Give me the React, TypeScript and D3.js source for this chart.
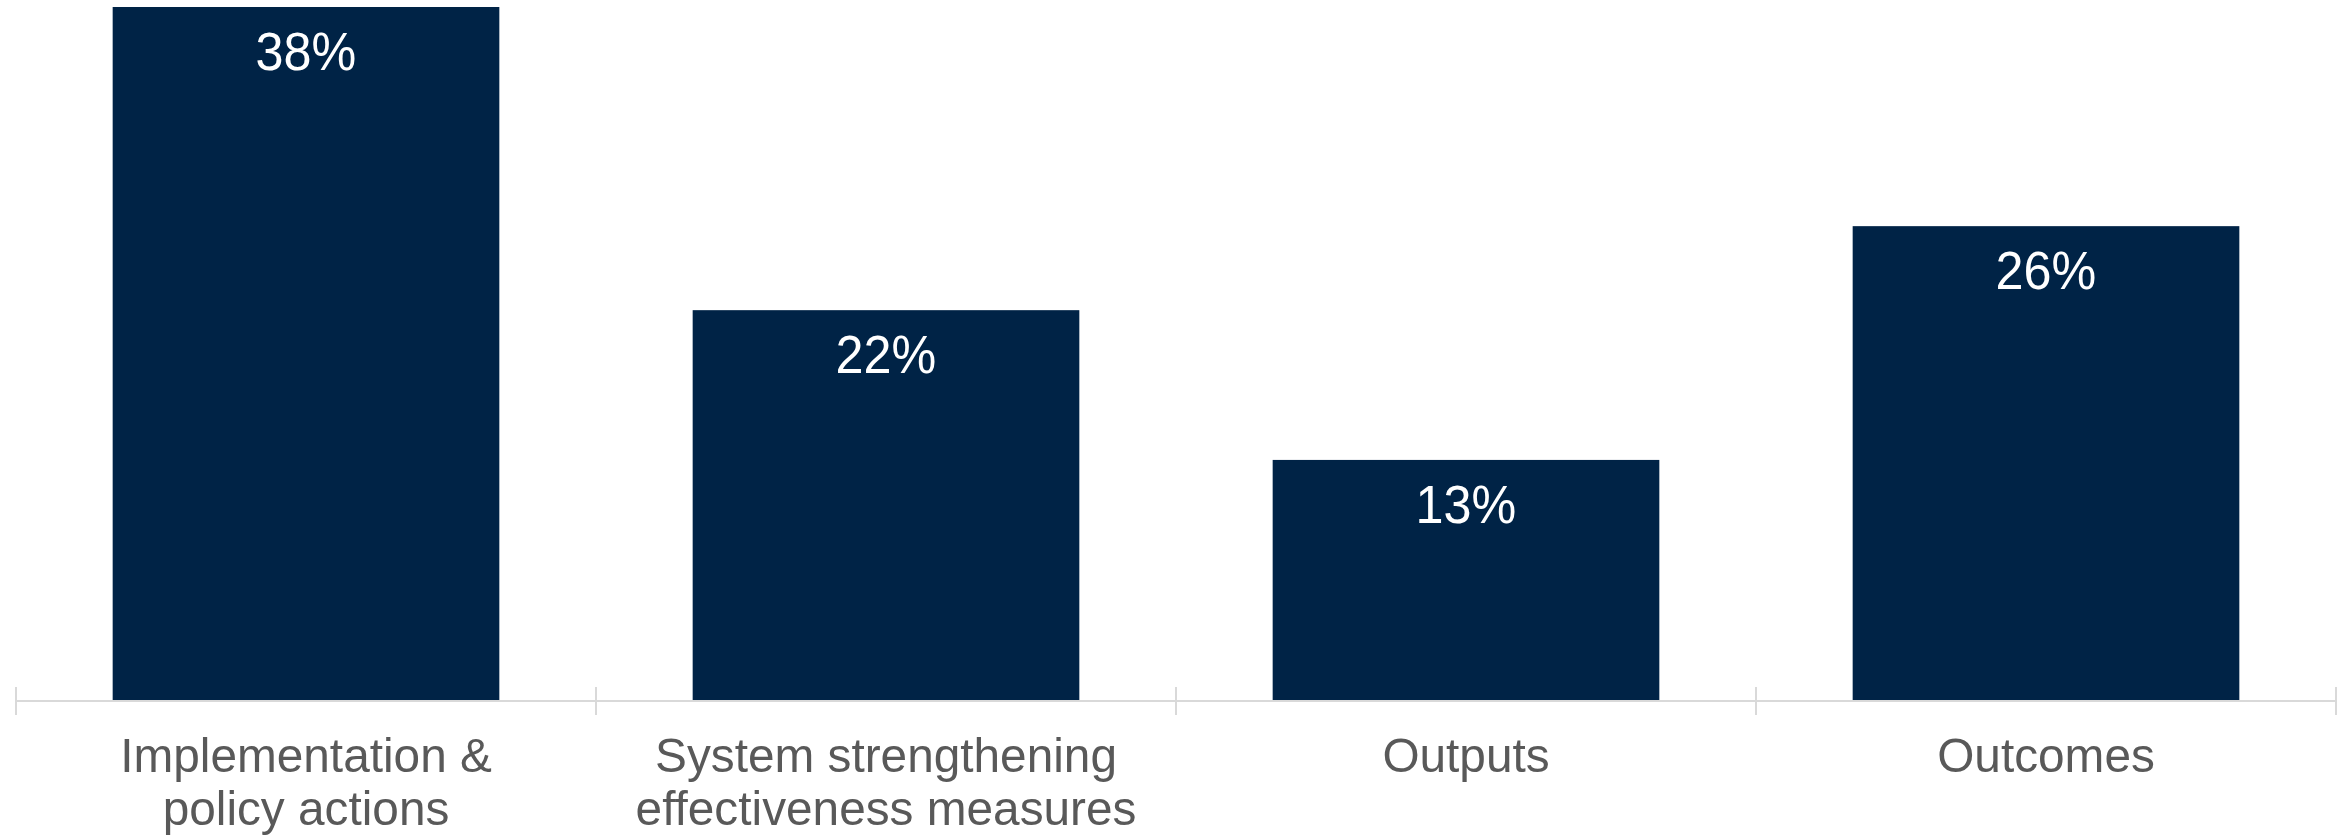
import React from "react";
import * as d3 from "d3";

const categories = [
  "Implementation & policy actions",
  "System strengthening effectiveness measures",
  "Outputs",
  "Outcomes",
];
const categoryLines = [
  ["Implementation &", "policy actions"],
  ["System strengthening", "effectiveness measures"],
  ["Outputs"],
  ["Outcomes"],
];
const values = [0.38, 0.214, 0.132, 0.26];
const valueLabels = ["38%", "22%", "13%", "26%"];

const W = 2351;
const H = 837;
const axisY = 701;
const barColor = "#002346";
const axisColor = "#d9d9d9";
const font = "'Liberation Sans', Arial, Helvetica, sans-serif";

export default function App() {
  const x = d3
    .scaleBand<string>()
    .domain(categories)
    .range([16, 2336])
    .paddingInner(1 / 3)
    .paddingOuter(1 / 6);
  const y = d3.scaleLinear().domain([0, 0.38]).range([axisY, 7]);
  const step = x.step();
  const half = (step - x.bandwidth()) / 2;
  const ticks = categories.map((c) => (x(c) as number) - half);
  ticks.push((x(categories[categories.length - 1]) as number) + x.bandwidth() + half);

  return (
    <svg
      width={W}
      height={H}
      style={{ position: "absolute", left: 0, top: 0, background: "#fff" }}
    >
      {categories.map((c, i) => (
        <rect
          key={c}
          x={x(c)}
          y={y(values[i])}
          width={x.bandwidth()}
          height={axisY - y(values[i])}
          fill={barColor}
        />
      ))}
      <line x1={ticks[0]} x2={ticks[ticks.length - 1]} y1={axisY} y2={axisY} stroke={axisColor} strokeWidth={2} />
      {ticks.map((t, i) => (
        <line key={i} x1={t} x2={t} y1={axisY - 14} y2={axisY + 14} stroke={axisColor} strokeWidth={2} />
      ))}
      {categories.map((c, i) => (
        <text
          key={"v" + c}
          transform={`translate(${(x(c) as number) + x.bandwidth() / 2},${y(values[i]) + 63}) scale(0.95,1)`}
          textAnchor="middle"
          fill="#ffffff"
          fontFamily={font}
          fontSize={53}
        >
          {valueLabels[i]}
        </text>
      ))}
      {categories.map((c, i) => (
        <g
          key={"c" + c}
          transform={`translate(${(x(c) as number) + x.bandwidth() / 2},772) scale(0.975,1)`}
        >
          {categoryLines[i].map((l, j) => (
            <text
              key={j}
              x={0}
              y={j * 53}
              textAnchor="middle"
              fill="#595959"
              fontFamily={font}
              fontSize={49}
            >
              {l}
            </text>
          ))}
        </g>
      ))}
    </svg>
  );
}
